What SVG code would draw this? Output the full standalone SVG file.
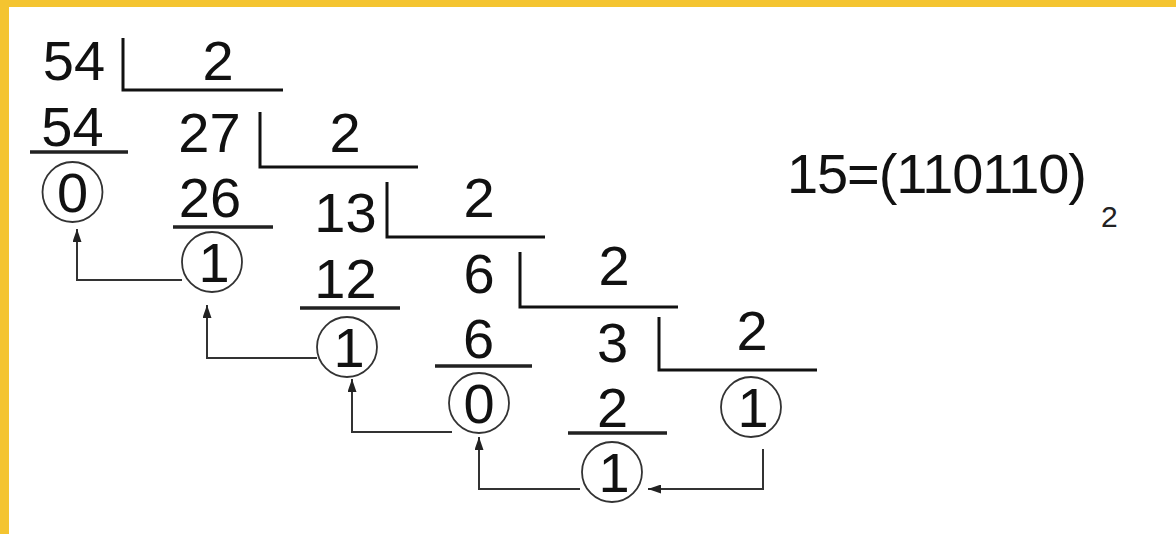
<svg xmlns="http://www.w3.org/2000/svg" width="1176" height="534" viewBox="0 0 1176 534">
<style>
.t{font-family:"Liberation Sans",Arial,sans-serif;font-size:56px;fill:#111;text-anchor:middle}
.br{fill:none;stroke:#111;stroke-width:3}
.ul{stroke:#222;stroke-width:3.5}
.c{fill:none;stroke:#333;stroke-width:1.8}
.ar{fill:none;stroke:#333;stroke-width:2}
</style>
<defs>
<marker id="ah" markerUnits="userSpaceOnUse" markerWidth="13" markerHeight="9" refX="13" refY="4.5" orient="auto">
<path d="M0,0 L13,4.5 L0,9 z" fill="#222"/>
</marker>
</defs>
<rect width="1176" height="534" fill="#fff"/>
<rect x="0" y="0" width="1176" height="7" fill="#F4C430"/>
<rect x="0" y="0" width="9" height="534" fill="#F4C430"/>

<g id="step1">
<text class="t" x="74" y="80">54</text>
<path class="br" d="M123,38 V90 H283"/>
<text class="t" x="218" y="80">2</text>
<text class="t" x="72.5" y="146">54</text>
<line class="ul" x1="30" y1="152" x2="128" y2="152"/>
<circle class="c" cx="72.5" cy="192" r="30"/>
<text class="t" x="72.5" y="212">0</text>
</g>

<g id="step2">
<text class="t" x="209.5" y="152">27</text>
<path class="br" d="M260,112 V167 H418"/>
<text class="t" x="345" y="152">2</text>
<text class="t" x="210" y="217">26</text>
<line class="ul" x1="173" y1="227" x2="273" y2="227"/>
<circle class="c" cx="212" cy="262" r="30"/>
<text class="t" x="214" y="282">1</text>
</g>

<g id="step3">
<text class="t" x="345.5" y="232">13</text>
<path class="br" d="M387,182 V237 H545"/>
<text class="t" x="479" y="217">2</text>
<text class="t" x="345.5" y="298">12</text>
<line class="ul" x1="300" y1="308" x2="400" y2="308"/>
<circle class="c" cx="347" cy="347" r="30"/>
<text class="t" x="349" y="367">1</text>
</g>

<g id="step4">
<text class="t" x="479" y="293">6</text>
<path class="br" d="M520,252 V307 H678"/>
<text class="t" x="614" y="285">2</text>
<text class="t" x="478.5" y="358">6</text>
<line class="ul" x1="435" y1="366" x2="532" y2="366"/>
<circle class="c" cx="479" cy="403" r="30"/>
<text class="t" x="479" y="423">0</text>
</g>

<g id="step5">
<text class="t" x="612.5" y="362">3</text>
<path class="br" d="M659,317 V370 H817"/>
<text class="t" x="752" y="350">2</text>
<text class="t" x="612.5" y="427">2</text>
<line class="ul" x1="568" y1="433" x2="667" y2="433"/>
<circle class="c" cx="612" cy="472" r="30"/>
<text class="t" x="614" y="492">1</text>
<circle class="c" cx="751" cy="407" r="30"/>
<text class="t" x="753" y="427">1</text>
</g>

<g id="result">
<text x="787" y="193" style="font-family:'Liberation Sans',Arial,sans-serif;font-size:56px;fill:#111" textLength="300" lengthAdjust="spacing">15=(110110)</text>
<text x="1101" y="227" style="font-family:'Liberation Sans',Arial,sans-serif;font-size:30px;fill:#222">2</text>
</g>

<g id="connectors">
<path class="ar" d="M182,280 H77 V229" marker-end="url(#ah)"/>
<path class="ar" d="M317,358 H207 V305" marker-end="url(#ah)"/>
<path class="ar" d="M452,432 H352 V379" marker-end="url(#ah)"/>
<path class="ar" d="M580,489 H479 V437" marker-end="url(#ah)"/>
<path class="ar" d="M763,449 V489 H648" marker-end="url(#ah)"/>
</g>
</svg>
